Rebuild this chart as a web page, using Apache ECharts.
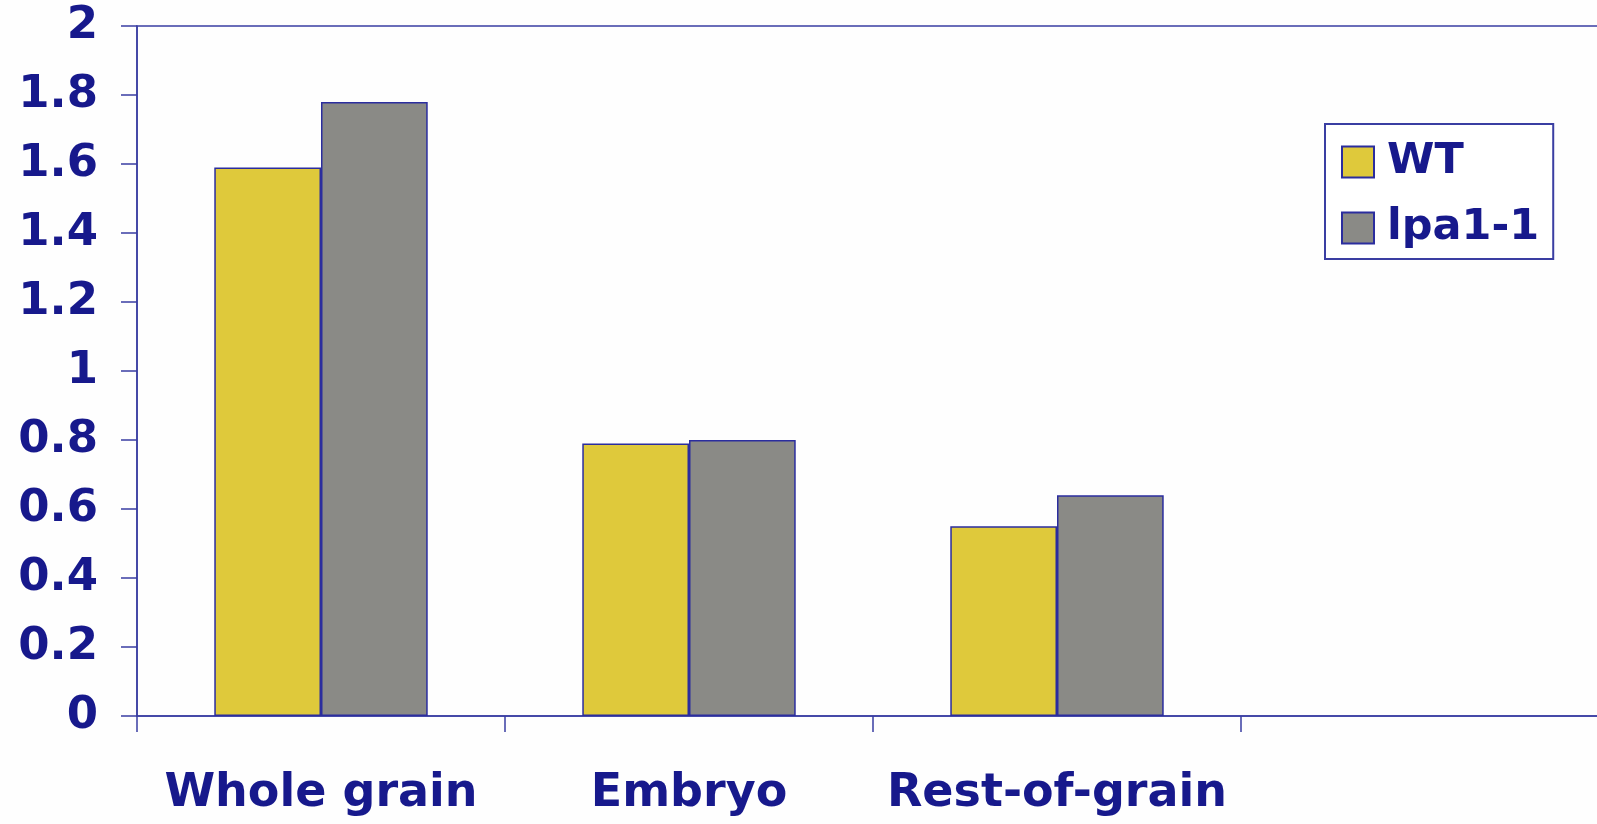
<!DOCTYPE html>
<html>
<head>
<meta charset="utf-8">
<script src="https://cdn.jsdelivr.net/npm/echarts@6/dist/echarts.min.js"></script>
<style>
  html, body { margin: 0; padding: 0; background: #fefefe; overflow: hidden; width: 1597px; height: 824px; }
  /* the plot runs on past the right edge of the page */
  #chart { width: 1609px; height: 824px; }
</style>
</head>
<body>
<div id="chart"></div>
<script>
// Grain fractions; the trailing empty slot keeps the axis running past the right edge
const categories = ['Whole grain', 'Embryo', 'Rest-of-grain', ''];
const seriesNames = ['WT', 'lpa1-1'];
const wtValues = [1.59, 0.79, 0.55, null];
const lpaValues = [1.78, 0.80, 0.64, null];
const yTickLabels = ['0', '0.2', '0.4', '0.6', '0.8', '1', '1.2', '1.4', '1.6', '1.8', '2'];

const navy = '#17198c';
const axisBlue = '#3a3ea2';
const fontFamily = '"DejaVu Sans", Verdana, sans-serif';

const chart = echarts.init(document.getElementById('chart'), null, { renderer: 'canvas' });

chart.setOption({
  backgroundColor: '#fefefe',
  animation: false,
  grid: {
    left: 137, top: 26, right: 0, bottom: 108,
    show: true,
    borderColor: axisBlue,
    borderWidth: 1.5,
    backgroundColor: 'transparent'
  },
  legend: {
    orient: 'vertical',
    left: 1325,
    top: 124,
    data: seriesNames,
    icon: 'rect',
    itemWidth: 32,
    itemHeight: 31,
    itemGap: 20,
    padding: [15, 14, 8, 16],
    borderColor: axisBlue,
    borderWidth: 2,
    backgroundColor: '#ffffff',
    textStyle: {
      color: navy,
      fontFamily: fontFamily,
      fontWeight: 'bold',
      fontSize: 43,
      lineHeight: 46,
      padding: [0, 0, 0, 8]
    }
  },
  xAxis: {
    type: 'category',
    data: categories,
    boundaryGap: true,
    axisLine: { lineStyle: { color: axisBlue, width: 1.5 } },
    axisTick: { show: true, interval: 0, length: 16, lineStyle: { color: axisBlue, width: 1.5 } },
    axisLabel: {
      interval: 0,
      color: navy,
      fontFamily: fontFamily,
      fontWeight: 'bold',
      fontSize: 46,
      margin: 55
    },
    splitLine: { show: false }
  },
  yAxis: {
    type: 'value',
    min: 0,
    max: 2,
    interval: 0.2,
    axisLine: { show: true, lineStyle: { color: axisBlue, width: 1.5 } },
    axisTick: { show: true, length: 16, lineStyle: { color: axisBlue, width: 1.5 } },
    axisLabel: {
      color: navy,
      fontFamily: fontFamily,
      fontWeight: 'bold',
      fontSize: 45,
      margin: 39,
      formatter: function (v, i) { return yTickLabels[i]; }
    },
    splitLine: { show: false }
  },
  series: [
    {
      name: seriesNames[0],
      type: 'bar',
      data: wtValues,
      barGap: '0%',
      barCategoryGap: '42%',
      itemStyle: { color: '#dfc93b', borderColor: '#2b2d9e', borderWidth: 1.5 }
    },
    {
      name: seriesNames[1],
      type: 'bar',
      data: lpaValues,
      barGap: '0%',
      barCategoryGap: '42%',
      itemStyle: { color: '#8a8a86', borderColor: '#2b2d9e', borderWidth: 1.5 }
    }
  ]
});
</script>
</body>
</html>
